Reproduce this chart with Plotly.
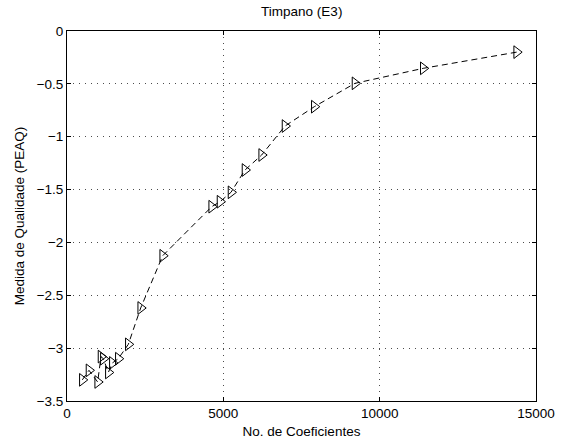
import plotly.graph_objects as go

# Number of coefficients vs. PEAQ quality measure
coeficientes = [490, 703, 981, 1087, 1162, 1322, 1450, 1641, 1961, 2357, 3060,
                4627, 4893, 5245, 5692, 6226, 6972, 7909, 9210, 11395, 14381]
peaq = [-3.30, -3.21, -3.32, -3.08, -3.10, -3.23, -3.14, -3.10, -2.964, -2.62, -2.126,
        -1.662, -1.615, -1.526, -1.315, -1.173, -0.899, -0.716, -0.495, -0.353, -0.20]

x_ticks = [0, 5000, 10000, 15000]
y_ticks = [0, -0.5, -1, -1.5, -2, -2.5, -3, -3.5]

font = dict(family="Liberation Sans, Arial, sans-serif", size=13.5, color="black")

fig = go.Figure()
fig.add_trace(go.Scatter(
    x=coeficientes, y=peaq,
    mode="lines+markers",
    line=dict(color="black", width=1, dash="6px,4px"),
    marker=dict(symbol="triangle-right-open", size=11, color="black",
                line=dict(width=1, color="black")),
    showlegend=False,
))

axis_common = dict(
    showgrid=True, gridcolor="rgba(0,0,0,0.7)", griddash="1px,5px", gridwidth=1,
    showline=True, linecolor="black", linewidth=1, mirror="ticks",
    ticks="inside", ticklen=4, tickcolor="black", zeroline=False,
    tickfont=font, automargin=False,
)

fig.update_xaxes(range=[0, 15000], tickvals=x_ticks, ticktext=[str(v) for v in x_ticks],
                 title=dict(text="No. de Coeficientes", font=font, standoff=6),
                 **axis_common)
fig.update_yaxes(range=[-3.5, 0], tickvals=y_ticks,
                 ticktext=[("\u2212" + f"{abs(v):g}") if v < 0 else f"{v:g}" for v in y_ticks],
                 title=dict(text="Medida de Qualidade (PEAQ)", font=font, standoff=8),
                 **axis_common)

fig.update_layout(
    width=564, height=443,
    margin=dict(l=67, r=28, t=31, b=42),
    plot_bgcolor="white", paper_bgcolor="white",
    font=font,
    title=dict(text="Timpano (E3)", x=0.535, xanchor="center", y=0.985, yanchor="top",
               font=font),
)

fig.write_html("out.html")
